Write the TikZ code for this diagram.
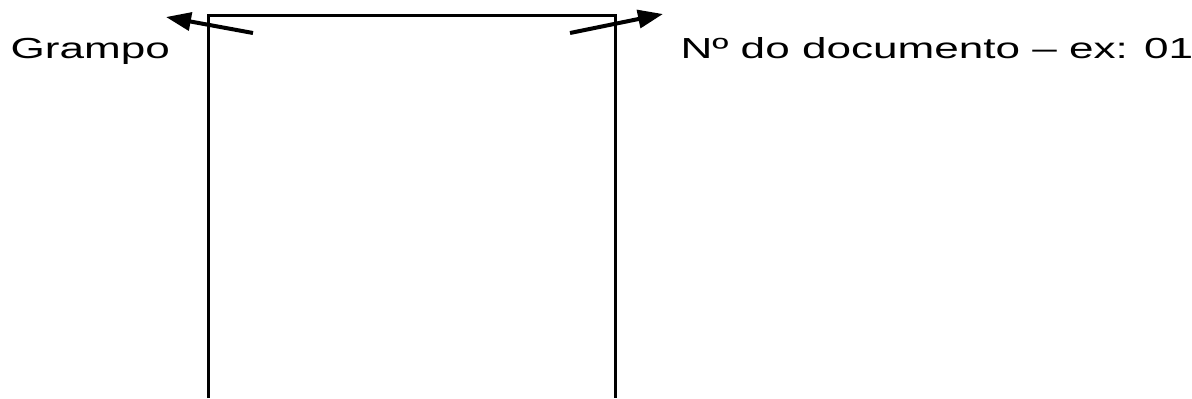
\documentclass[tikz,border=0pt]{standalone}
\usepackage{fontspec}
\setmainfont{Liberation Sans}
\usetikzlibrary{arrows.meta}
\tikzset{
  >={Triangle[length=12.5pt,width=9pt]},
  sheet/.style={line width=1.5pt},
  pointer/.style={->,line width=2pt},
  tag/.style={inner sep=0pt,anchor=base west,xscale=1.52,
    font=\fontsize{14.5}{17}\selectfont}
}
\begin{document}
\begin{tikzpicture}[x=0.5pt,y=-0.5pt]
  \useasboundingbox (0,0) rectangle (1192,398);
  % folha (aberta em baixo)
  \draw[sheet] (208,398) -- (208,15) -- (615,15) -- (615,398);

  \node[tag] (grampo) at (10,58) {Grampo};
  \node[tag] (numero) at (680,58) {Nº do documento – ex: 01};

  \coordinate (grampoFrom) at (253,33);
  \coordinate (grampoTip) at (166,17);
  \coordinate (numeroFrom) at (570,33);
  \coordinate (numeroTip) at (663,14);
  \draw[pointer] (grampoFrom) -- (grampoTip);
  \draw[pointer] (numeroFrom) -- (numeroTip);
\end{tikzpicture}
\end{document}
